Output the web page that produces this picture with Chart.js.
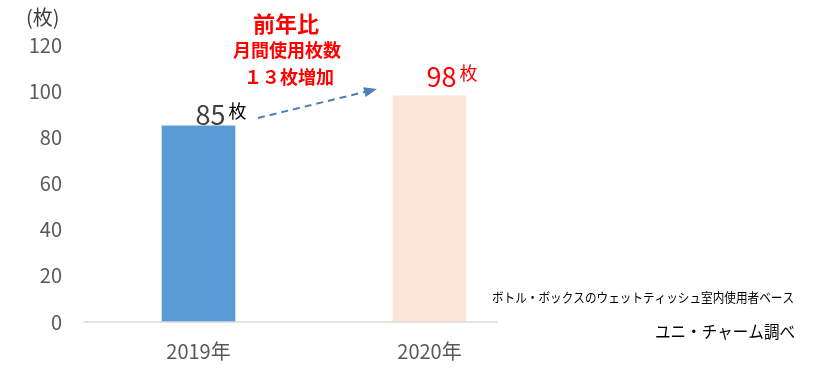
<!DOCTYPE html>
<html lang="ja">
<head>
<meta charset="UTF-8">
<title>ウェットティッシュ月間使用枚数</title>
<style>
body { margin: 0; background: #fff; }
#wrap { width: 815px; height: 373px; }
</style>
</head>
<body>
<div id="wrap"><canvas id="chart" width="815" height="373"></canvas></div>
<script src="https://cdn.jsdelivr.net/npm/chart.js@4.4.1/dist/chart.umd.min.js"></script>
<script>
const years = ['2019年', '2020年'];
const sheets = [85, 98];
const barColors = ['#5b9bd5', '#fbe5d6'];
const yTicks = [0, 20, 40, 60, 80, 100, 120];

const FONT = '"Noto Sans CJK JP", "Noto Sans", sans-serif';

// value labels, callout, arrow and footnotes
const extras = {
  id: 'extras',
  afterDatasetsDraw(chart) {
    const { ctx, chartArea } = chart;
    const xs = chart.scales.x, ys = chart.scales.y;
    ctx.save();

    // baseline
    ctx.strokeStyle = '#d9d9d9';
    ctx.lineWidth = 1.5;
    ctx.beginPath();
    ctx.moveTo(chartArea.left, ys.getPixelForValue(0));
    ctx.lineTo(xs.getPixelForValue(1) + 68, ys.getPixelForValue(0));
    ctx.stroke();

    // unit label
    ctx.fillStyle = '#404040';
    ctx.font = '20px ' + FONT;
    ctx.textAlign = 'left';
    ctx.textBaseline = 'middle';
    ctx.fillText('(枚)', 26, 17);

    // value labels
    const lbl = (i, color, lift) => {
      const x = xs.getPixelForValue(i) + 27;
      const y = ys.getPixelForValue(sheets[i]) - lift;
      ctx.textBaseline = 'middle';
      ctx.textAlign = 'right';
      ctx.font = '27px ' + FONT;
      ctx.fillStyle = color;
      ctx.fillText(String(sheets[i]), x, y);
      ctx.textAlign = 'left';
      ctx.font = '18px ' + FONT;
      ctx.fillStyle = i === 0 ? '#000' : color;
      ctx.fillText('枚', x + 3, y - 4);
    };
    lbl(0, '#404040', 11);
    lbl(1, '#ff0000', 19);

    // red callout
    ctx.fillStyle = '#ff0000';
    ctx.textAlign = 'center';
    ctx.textBaseline = 'middle';
    ctx.font = 'bold 22px ' + FONT;
    ctx.fillText('前年比', 286, 24);
    ctx.font = 'bold 18px ' + FONT;
    ctx.fillText('月間使用枚数', 287, 50);
    ctx.fillText('１３枚増加', 289, 77);

    // dashed arrow
    const x1 = 258, y1 = 118, x2 = 377, y2 = 89;
    ctx.strokeStyle = '#4f7fb8';
    ctx.lineWidth = 2;
    ctx.setLineDash([7, 5]);
    ctx.beginPath();
    ctx.moveTo(x1, y1);
    ctx.lineTo(x2 - 10, y2 + 2.4);
    ctx.stroke();
    ctx.setLineDash([]);
    const a = Math.atan2(y2 - y1, x2 - x1);
    ctx.fillStyle = '#4f7fb8';
    ctx.beginPath();
    ctx.moveTo(x2, y2);
    ctx.lineTo(x2 - 13 * Math.cos(a) + 5 * Math.sin(a), y2 - 13 * Math.sin(a) - 5 * Math.cos(a));
    ctx.lineTo(x2 - 13 * Math.cos(a) - 5 * Math.sin(a), y2 - 13 * Math.sin(a) + 5 * Math.cos(a));
    ctx.closePath();
    ctx.fill();

    // footnotes
    ctx.fillStyle = '#000';
    ctx.textAlign = 'right';
    ctx.font = '13px ' + FONT;
    ctx.fillText('ボトル・ボックスのウェットティッシュ室内使用者ベース', 794, 297, 302);
    ctx.font = '17px ' + FONT;
    ctx.fillText('ユニ・チャーム調べ', 795, 332, 140);
    ctx.restore();
  }
};

new Chart(document.getElementById('chart'), {
  type: 'bar',
  data: {
    labels: years,
    datasets: [{ data: sheets, backgroundColor: barColors, barThickness: 73 }]
  },
  options: {
    responsive: false,
    animation: false,
    layout: { padding: { left: 0, top: 45, right: 270, bottom: 0 } },
    plugins: { legend: { display: false }, tooltip: { enabled: false } },
    scales: {
      x: {
        grid: { display: false, drawTicks: false },
        border: { display: false },
        ticks: { color: '#595959', font: { family: FONT, size: 20 }, padding: 17 },
        afterFit(s) { s.height = 51; }
      },
      y: {
        min: 0, max: 120,
        afterBuildTicks(s) { s.ticks = yTicks.map(v => ({ value: v })); },
        grid: { display: false, drawTicks: false },
        border: { display: false },
        ticks: { color: '#595959', font: { family: FONT, size: 20 }, padding: 21 },
        afterFit(s) { s.width = 83; }
      }
    }
  },
  plugins: [extras]
});
</script>
</body>
</html>
